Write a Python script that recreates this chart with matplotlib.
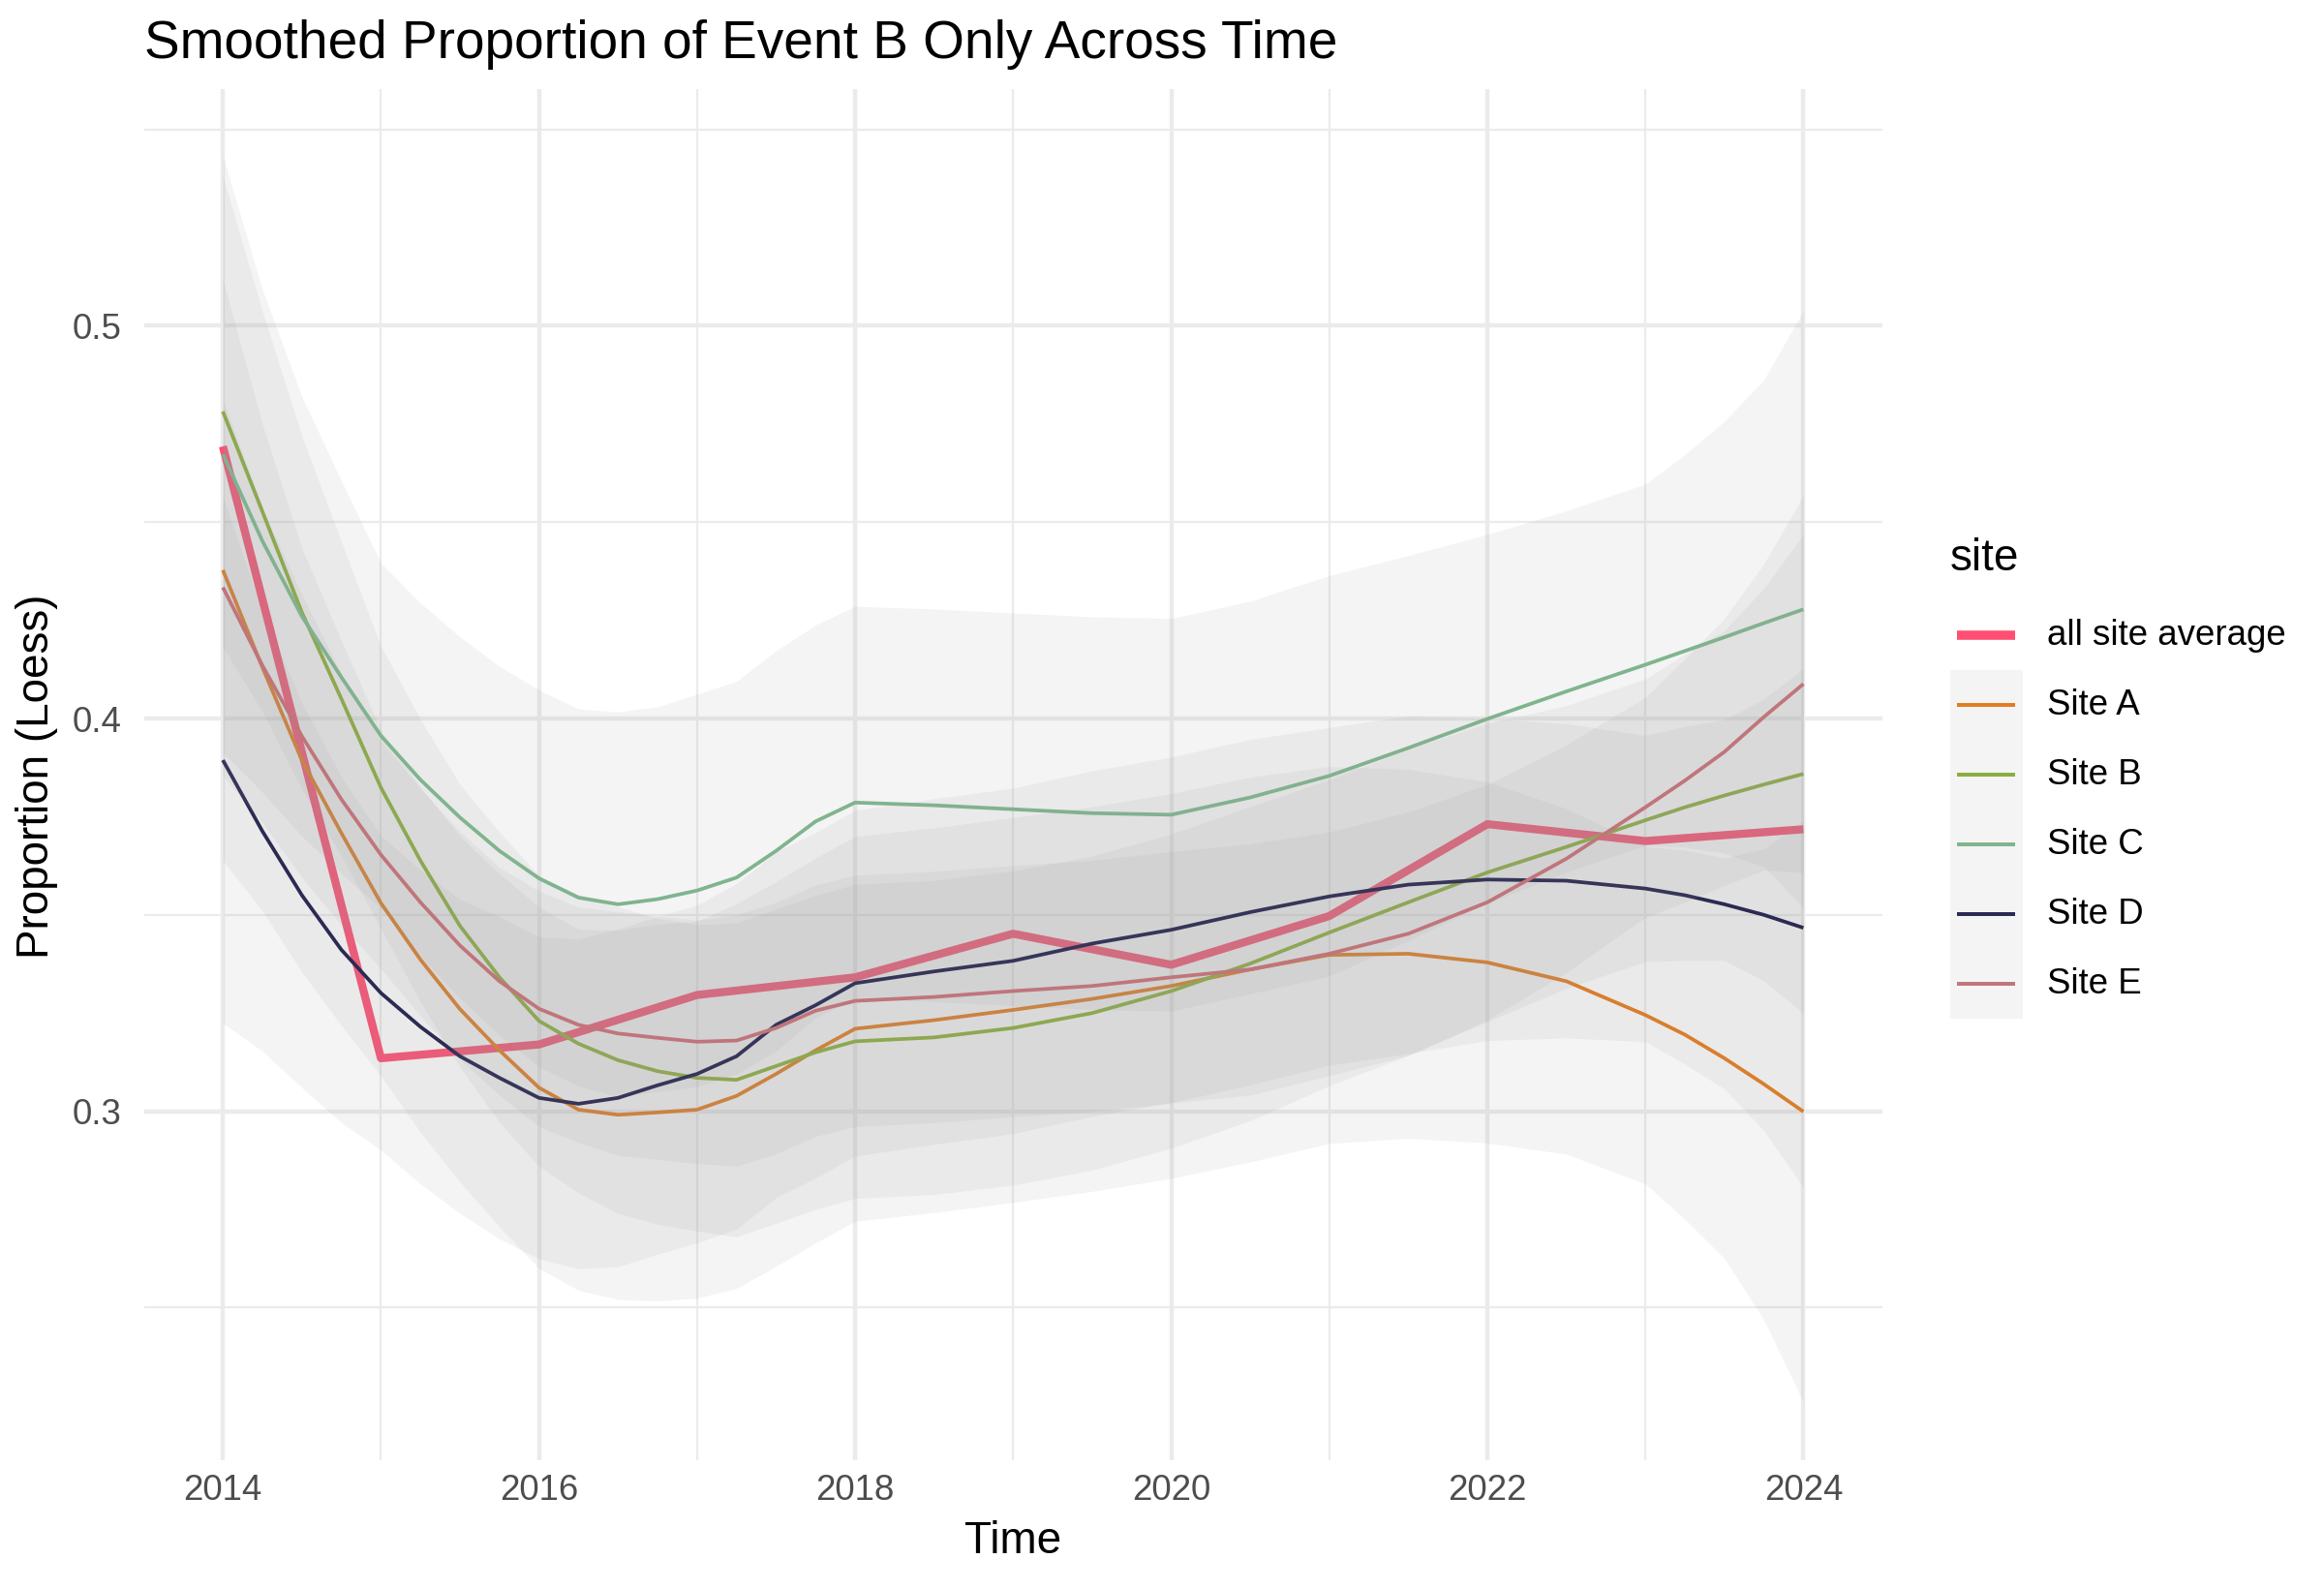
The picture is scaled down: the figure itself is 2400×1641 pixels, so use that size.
import matplotlib
matplotlib.use('Agg')
import matplotlib.pyplot as plt
import numpy as np
from matplotlib.patches import Rectangle
from matplotlib.lines import Line2D

plt.rcParams['font.family'] = ['Liberation Sans', 'DejaVu Sans']

# yearly all-site average
years = [2014, 2015, 2016, 2017, 2018, 2019, 2020, 2021, 2022, 2023, 2024]
avg = [0.4693, 0.3135, 0.3170, 0.3296, 0.3341, 0.3452, 0.3373, 0.3497, 0.3731, 0.3688, 0.3718]

# loess fits (quarter years where the curves bend most)
t = [2014.0, 2014.25, 2014.5, 2014.75, 2015.0, 2015.25, 2015.5, 2015.75, 2016.0, 2016.25,
     2016.5, 2016.75, 2017.0, 2017.25, 2017.5, 2017.75, 2018.0,
     2018.5, 2019.0, 2019.5, 2020.0, 2020.5, 2021.0, 2021.5, 2022.0, 2022.5, 2023.0,
     2023.25, 2023.5, 2023.75, 2024.0]
sites = ['Site A', 'Site B', 'Site C', 'Site D', 'Site E']

fit_a = [0.4378, 0.4130, 0.3894, 0.3708, 0.3530, 0.3386, 0.3260, 0.3155, 0.3060, 0.3004,
         0.2991, 0.2997, 0.3004, 0.3039, 0.3095, 0.3155, 0.3210,
         0.3232, 0.3258, 0.3286, 0.3319, 0.3361, 0.3398, 0.3401, 0.3379, 0.3331, 0.3245,
         0.3195, 0.3135, 0.3069, 0.2999]
fit_b = [0.4782, 0.4527, 0.4270, 0.4050, 0.3824, 0.3638, 0.3472, 0.3341, 0.3230, 0.3172,
         0.3130, 0.3102, 0.3085, 0.3080, 0.3115, 0.3150, 0.3178,
         0.3188, 0.3212, 0.3250, 0.3306, 0.3376, 0.3455, 0.3532, 0.3608, 0.3673, 0.3741,
         0.3774, 0.3804, 0.3832, 0.3859]
fit_c = [0.4673, 0.4452, 0.4260, 0.4105, 0.3956, 0.3844, 0.3748, 0.3663, 0.3593, 0.3544,
         0.3527, 0.3540, 0.3562, 0.3595, 0.3663, 0.3738, 0.3786,
         0.3779, 0.3769, 0.3759, 0.3755, 0.3799, 0.3854, 0.3925, 0.3999, 0.4069, 0.4137,
         0.4172, 0.4207, 0.4243, 0.4278]
fit_d = [0.3894, 0.3713, 0.3550, 0.3411, 0.3301, 0.3215, 0.3140, 0.3085, 0.3034, 0.3019,
         0.3034, 0.3066, 0.3095, 0.3140, 0.3220, 0.3270, 0.3326,
         0.3356, 0.3383, 0.3427, 0.3462, 0.3507, 0.3547, 0.3577, 0.3590, 0.3587, 0.3567,
         0.3550, 0.3527, 0.3500, 0.3467]
fit_e = [0.4334, 0.4135, 0.3955, 0.3794, 0.3653, 0.3532, 0.3422, 0.3331, 0.3261, 0.3220,
         0.3198, 0.3187, 0.3177, 0.3180, 0.3212, 0.3256, 0.3281,
         0.3291, 0.3306, 0.3319, 0.3341, 0.3361, 0.3401, 0.3452, 0.3532, 0.3643, 0.3774,
         0.3842, 0.3915, 0.4004, 0.4088]

# half widths of the confidence bands
hw_a = [0.074, 0.062, 0.054, 0.049, 0.044, 0.044, 0.044, 0.045, 0.046, 0.046,
        0.047, 0.048, 0.048, 0.049, 0.049, 0.049, 0.049,
        0.049, 0.049, 0.049, 0.049, 0.049, 0.048, 0.047, 0.046, 0.044, 0.043,
        0.047, 0.051, 0.060, 0.074]
hw_b = [0.060, 0.051, 0.045, 0.040, 0.036, 0.036, 0.036, 0.037, 0.037, 0.038,
        0.039, 0.039, 0.039, 0.040, 0.040, 0.040, 0.040,
        0.040, 0.040, 0.040, 0.040, 0.040, 0.039, 0.039, 0.038, 0.036, 0.036,
        0.039, 0.042, 0.050, 0.061]
hw_c = [0.076, 0.064, 0.056, 0.050, 0.044, 0.045, 0.046, 0.047, 0.048, 0.048,
        0.049, 0.049, 0.050, 0.050, 0.051, 0.050, 0.050,
        0.050, 0.050, 0.050, 0.050, 0.050, 0.051, 0.049, 0.047, 0.046, 0.046,
        0.050, 0.055, 0.062, 0.076]
hw_d = [0.067, 0.056, 0.049, 0.044, 0.040, 0.040, 0.040, 0.041, 0.041, 0.042,
        0.043, 0.043, 0.043, 0.044, 0.044, 0.044, 0.044,
        0.044, 0.044, 0.044, 0.044, 0.044, 0.043, 0.043, 0.041, 0.040, 0.039,
        0.043, 0.047, 0.055, 0.066]
hw_e = [0.048, 0.040, 0.036, 0.032, 0.029, 0.029, 0.029, 0.029, 0.030, 0.030,
        0.031, 0.031, 0.031, 0.032, 0.032, 0.032, 0.032,
        0.032, 0.032, 0.032, 0.032, 0.032, 0.031, 0.031, 0.030, 0.029, 0.028,
        0.031, 0.034, 0.039, 0.048]

fits = [fit_a, fit_b, fit_c, fit_d, fit_e]
hws = [hw_a, hw_b, hw_c, hw_d, hw_e]
colors = ['#E17C21', '#8BAD3F', '#80B48E', '#2B2A52', '#C0757B']
avg_color = '#FF4F73'

fig = plt.figure(figsize=(8, 5.47), dpi=300)
ax = fig.add_axes([0.0619, 0.0812, 0.7481, 0.8628])

# average first, the site ribbons are drawn over it
ax.plot(years, avg, color=avg_color, lw=2.0, solid_capstyle='butt', zorder=2)

for i in range(5):
    f = np.array(fits[i])
    h = np.array(hws[i])
    ax.fill_between(t, f - h, f + h, color='#999999', alpha=0.1, lw=0, zorder=3 + 2 * i)
    ax.plot(t, f, color=colors[i], lw=0.9, solid_capstyle='butt', zorder=4 + 2 * i)

ax.set_xlim(2013.5, 2024.5)
ax.set_ylim(0.2112, 0.5603)
ax.set_xticks([2014, 2016, 2018, 2020, 2022, 2024])
ax.set_xticks([2015, 2017, 2019, 2021, 2023], minor=True)
ax.set_yticks([0.3, 0.4, 0.5])
ax.set_yticklabels(['0.3', '0.4', '0.5'])
ax.set_yticks([0.25, 0.35, 0.45, 0.55], minor=True)
ax.grid(which='major', color='#EBEBEB', lw=1.07)
ax.grid(which='minor', color='#EBEBEB', lw=0.53)
ax.set_axisbelow(True)
for s in ax.spines.values():
    s.set_visible(False)
ax.tick_params(which='both', length=0)
ax.tick_params(axis='x', pad=3.3, labelsize=8.8, labelcolor='#4D4D4D')
ax.tick_params(axis='y', pad=5.5, labelsize=8.8, labelcolor='#4D4D4D')

fig.text(0.0619, 0.972, 'Smoothed Proportion of Event B Only Across Time', size=13.2, va='center', ha='left')
fig.text(0.436, 1 - 1592 / 1641, 'Time', size=11, ha='center', va='center')
fig.text(38 / 2400, 1 - 802 / 1641, 'Proportion (Loess)', size=11, rotation=90, ha='center', va='center')

# legend drawn by hand, ggplot style
kx = 2014 / 2400
kw = 75 / 2400
kh = 72 / 1641
fig.text(kx, 1 - 577 / 1641, 'site', size=11, ha='left', va='center')
rows = ['all site average'] + sites
row_colors = [avg_color] + colors
for j, lab in enumerate(rows):
    yc = 1 - (656 + 72 * j) / 1641
    if j > 0:
        fig.patches.append(Rectangle((kx, yc - kh / 2), kw, kh, transform=fig.transFigure,
                                     facecolor='#F4F4F4', edgecolor='none'))
    fig.lines.append(Line2D([kx + 7 / 2400, kx + 67 / 2400], [yc, yc], transform=fig.transFigure,
                            color=row_colors[j], lw=2.3 if j == 0 else 0.95, solid_capstyle='butt'))
    fig.text(2114 / 2400, yc, lab, size=8.8, ha='left', va='center')

fig.savefig('out.png', dpi=300)
